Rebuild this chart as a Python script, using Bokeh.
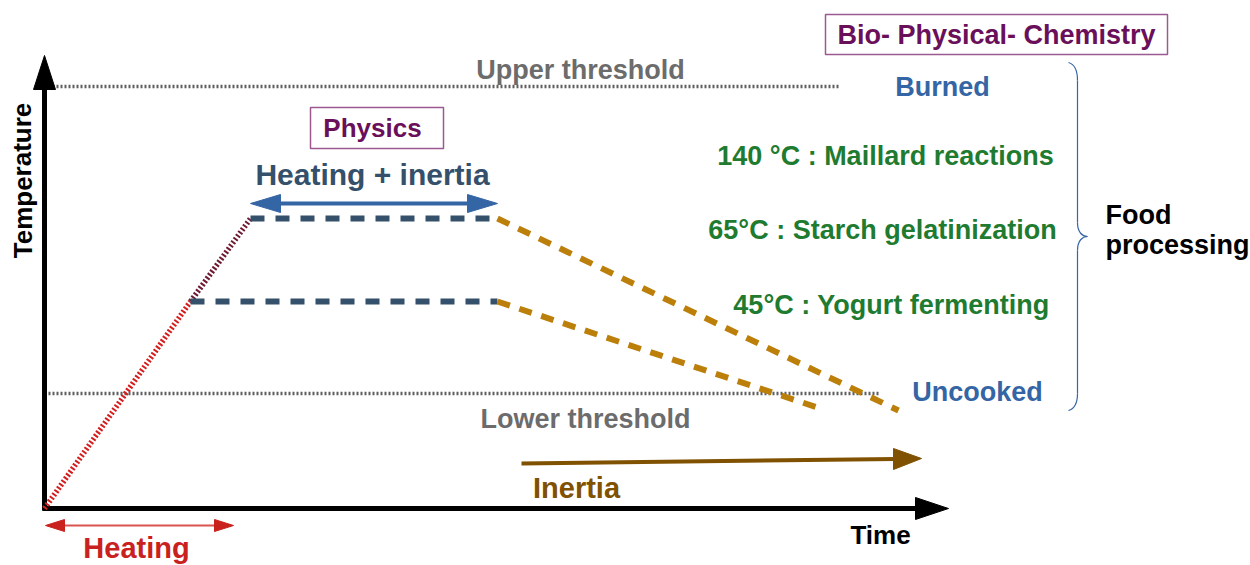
from bokeh.plotting import figure
from bokeh.models import Range1d
from bokeh.core.properties import value
from bokeh.embed import file_html
from bokeh.resources import INLINE

FONT = value("Liberation Sans")

# ---- diagram data (reference-space units: x = time, y = temperature, inverted) ----
axis_origin = (44, 508)
y_axis_top = 55
x_axis_end = 948

upper_threshold_y = 86
lower_threshold_y = 393
threshold_x = [48, 838]
lower_threshold_x = [48, 880]

heat_red_x = [44, 190]
heat_red_y = [508, 301]
heat_dark_x = [190, 250]
heat_dark_y = [301, 218]

plateau_hi_x = [250, 497]
plateau_hi_y = [218, 218]
plateau_lo_x = [190, 497]
plateau_lo_y = [301, 301]

cool_hi_x = [497, 898]
cool_hi_y = [218, 410]
cool_lo_x = [497, 820]
cool_lo_y = [301, 408]

labels_text = ["Upper threshold", "Lower threshold", "Physics", "Heating + inertia",
               "Bio- Physical- Chemistry", "Burned", "140 °C : Maillard reactions",
               "65°C : Starch gelatinization", "45°C : Yogurt fermenting", "Uncooked",
               "Inertia", "Time", "Heating"]
labels_x = [580, 585, 372, 372, 996, 942, 885, 882, 891, 977, 576, 880, 136]
labels_y = [69, 418, 127, 174, 34, 86, 155, 229, 304, 391, 487, 534, 547]
labels_size = ["27px", "27px", "26px", "30px", "27px", "27px", "27px", "27px", "27px", "27px",
               "29px", "26px", "29px"]
labels_color = ["#6c6c6c", "#6c6c6c", "#6a0f5a", "#35506b", "#6a0f5a", "#3465a4", "#1e7b30",
                "#1e7b30", "#1e7b30", "#3465a4", "#7f5100", "#000000", "#c9211e"]

p = figure(width=1250, height=565, output_backend="svg", toolbar_location=None,
           x_range=Range1d(0, 1250), y_range=Range1d(565, 0),
           min_border=0, outline_line_color=None)
p.xaxis.visible = False
p.yaxis.visible = False
p.grid.visible = False
p.background_fill_color = "white"
p.border_fill_color = "white"

# thresholds
p.line(threshold_x, [upper_threshold_y] * 2, line_color="#5f5f5f", line_width=3.5, line_dash="2 2")
p.line(lower_threshold_x, [lower_threshold_y] * 2, line_color="#5f5f5f", line_width=3.5, line_dash="2 2")

# axes
ox, oy = axis_origin
p.line([ox, ox], [oy + 2, y_axis_top + 28], line_color="black", line_width=5)
p.line([ox - 2, x_axis_end - 30], [oy, oy], line_color="black", line_width=5)
p.patch([ox, ox - 11, ox + 11], [y_axis_top, y_axis_top + 34, y_axis_top + 34], color="black")
p.patch([x_axis_end, x_axis_end - 33, x_axis_end - 33], [oy, oy - 11, oy + 11], color="black")

# heating ramp
p.line(heat_red_x, heat_red_y, line_color="#d41e1e", line_width=5.5, line_dash="2 2")
p.line(heat_dark_x, heat_dark_y, line_color="#6e1a32", line_width=5.5, line_dash="2 2")

# plateaus
p.line(plateau_hi_x, plateau_hi_y, line_color="#35506b", line_width=6, line_dash="14 11")
p.line(plateau_lo_x, plateau_lo_y, line_color="#35506b", line_width=6, line_dash="14 11")

# cooling
p.line(cool_hi_x, cool_hi_y, line_color="#bb7f0a", line_width=6, line_dash="13 10")
p.line(cool_lo_x, cool_lo_y, line_color="#bb7f0a", line_width=6, line_dash="13 10")

# blue double arrow (heating + inertia)
p.line([275, 470], [203, 203], line_color="#3465a4", line_width=4)
p.patch([250, 280, 280], [203, 194, 212], color="#3465a4")
p.patch([497, 467, 467], [203, 194, 212], color="#3465a4")

# red double arrow (heating)
p.line([55, 225], [525, 525], line_color="#d9534f", line_width=2)
p.patch([45, 64, 64], [525, 519, 531], color="#c9211e")
p.patch([233, 214, 214], [525, 519, 531], color="#c9211e")

# inertia arrow
p.line([521, 895], [463, 458.5], line_color="#7f5100", line_width=4)
p.patch([921, 893, 893], [458, 448, 469], color="#7f5100")

# boxes
p.quad(left=[310, 825], right=[443, 1167], top=[107, 14], bottom=[148, 54],
       fill_color="white", line_color="#9c5890", line_width=1.5)

# brace
bx = 1077
p.bezier(x0=[1068], y0=[62], x1=[bx], y1=[80], cx0=[1075], cy0=[64], cx1=[bx], cy1=[72],
         line_color="#3465a4", line_width=1.2)
p.line([bx, bx], [80, 222], line_color="#3465a4", line_width=1.2)
p.bezier(x0=[bx], y0=[222], x1=[1087], y1=[236], cx0=[bx], cy0=[232], cx1=[1082], cy1=[236],
         line_color="#3465a4", line_width=1.2)
p.bezier(x0=[1087], y0=[236], x1=[bx], y1=[250], cx0=[1082], cy0=[236], cx1=[bx], cy1=[240],
         line_color="#3465a4", line_width=1.2)
p.line([bx, bx], [250, 393], line_color="#3465a4", line_width=1.2)
p.bezier(x0=[bx], y0=[393], x1=[1068], y1=[410], cx0=[bx], cy0=[402], cx1=[1075], cy1=[408],
         line_color="#3465a4", line_width=1.2)

# texts
for t, x, y, s, c in zip(labels_text, labels_x, labels_y, labels_size, labels_color):
    p.text(x=[x], y=[y], text=[t], text_font=FONT, text_font_style="bold",
           text_font_size=s, text_color=c, text_align="center", text_baseline="middle")

p.text(x=[1105, 1105], y=[214, 244], text=["Food", "processing"], text_font=FONT,
       text_font_style="bold", text_font_size="27px", text_color="black",
       text_align="left", text_baseline="middle")

p.text(x=[22], y=[180], text=["Temperature"], angle=1.5708, text_font=FONT,
       text_font_style="bold", text_font_size="26px", text_color="black",
       text_align="center", text_baseline="middle")

open("out.html", "w").write(file_html(p, INLINE))
